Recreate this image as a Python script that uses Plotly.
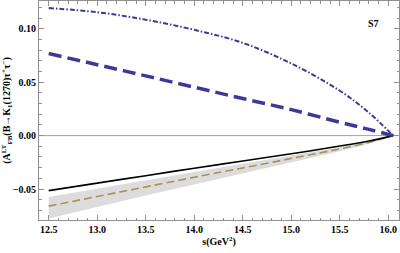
import plotly.graph_objects as go

s_vals = [12.5, 13.0, 13.5, 14.0, 14.5, 15.0, 15.5, 15.8, 16.05]
dashdot_vals = [0.1194, 0.1155, 0.1085, 0.0990, 0.0868, 0.0675, 0.0420, 0.0215, 0.0]
longdash_vals = [0.0768, 0.0664, 0.0559, 0.0453, 0.0347, 0.0243, 0.0125, 0.0058, 0.0]
solid_vals = [-0.0515, -0.0445, -0.0375, -0.0305, -0.0238, -0.0170, -0.0098, -0.0050, 0.0]
olive_vals = [-0.0660, -0.0568, -0.0478, -0.0390, -0.0303, -0.0215, -0.0125, -0.0065, 0.0]
band_upper = [-0.0575, -0.0495, -0.0417, -0.0340, -0.0263, -0.0187, -0.0109, -0.0057, 0.0]
band_lower = [-0.0775, -0.0665, -0.0560, -0.0457, -0.0355, -0.0252, -0.0146, -0.0076, 0.0]

x_ticks = [12.5, 13.0, 13.5, 14.0, 14.5, 15.0, 15.5, 16.0]
y_ticks = [-0.05, 0.0, 0.05, 0.10]

blue = "#3b3b96"
font = dict(family="Liberation Serif", size=10, color="black")
tfont = dict(family="Liberation Serif", size=10, color="black", weight="bold")

fig = go.Figure()
fig.add_trace(go.Scatter(x=s_vals, y=band_upper, mode="lines", line=dict(width=0),
                         showlegend=False, hoverinfo="skip"))
fig.add_trace(go.Scatter(x=s_vals, y=band_lower, mode="lines", line=dict(width=0),
                         fill="tonexty", fillcolor="#dcdcdc", showlegend=False, hoverinfo="skip"))
fig.add_trace(go.Scatter(x=s_vals, y=olive_vals, mode="lines",
                         line=dict(color="#a39457", width=1.6, dash="8px,4px"), showlegend=False))
fig.add_trace(go.Scatter(x=s_vals, y=solid_vals, mode="lines", line_shape="spline",
                         line=dict(color="black", width=1.6), showlegend=False))
fig.add_trace(go.Scatter(x=s_vals, y=longdash_vals, mode="lines", line_shape="spline",
                         line=dict(color=blue, width=3.5, dash="13px,6px"), showlegend=False))
fig.add_trace(go.Scatter(x=s_vals, y=dashdot_vals, mode="lines", line_shape="spline",
                         line=dict(color=blue, width=2, dash="5px,2px,1.5px,2px"), showlegend=False))

fig.add_shape(type="line", xref="paper", x0=0, x1=1, yref="y", y0=0, y1=0,
              line=dict(color="#a0a0a0", width=1), layer="below")

axis_common = dict(showgrid=False, zeroline=False, showline=True, linecolor="#909090",
                   linewidth=1, mirror="ticks", ticks="inside", ticklen=5, automargin=False,
                   tickcolor="#909090", tickfont=tfont)

fig.update_xaxes(range=[12.40, 16.11], tickvals=x_ticks,
                 ticktext=[f"{v:.1f}" for v in x_ticks],
                 minor=dict(dtick=0.1, ticks="inside", ticklen=2.5, tickcolor="#909090"),
                 title=dict(text="<b>s(GeV<sup>2</sup>)</b>", font=font, standoff=2),
                 **axis_common)
fig.update_yaxes(range=[-0.079, 0.126], tickvals=y_ticks,
                 ticktext=["\u22120.05", "0.00", "0.05", "0.10"],
                 minor=dict(dtick=0.01, ticks="inside", ticklen=2.5, tickcolor="#909090"),
                 title=dict(text="<b>(A<sup>LT</sup><sub>FB</sub>(B\u2192K<sub>1</sub>(1270)\u03c4<sup>+</sup>\u03c4<sup>\u2212</sup>)</b>",
                            font=dict(family="Liberation Serif", size=10, color="black"), standoff=2),
                 **axis_common)

fig.add_annotation(x=15.85, y=0.105, text="<b>S7</b>", showarrow=False,
                   font=dict(family="Liberation Serif", size=10, color="black"))

fig.update_layout(width=400, height=253, margin=dict(l=39, r=1, t=1, b=33),
                  plot_bgcolor="white", paper_bgcolor="white", font=font)

fig.write_html("out.html", config={"displayModeBar": False},
               post_script="document.body.style.margin='0';document.body.style.overflow='hidden';")
